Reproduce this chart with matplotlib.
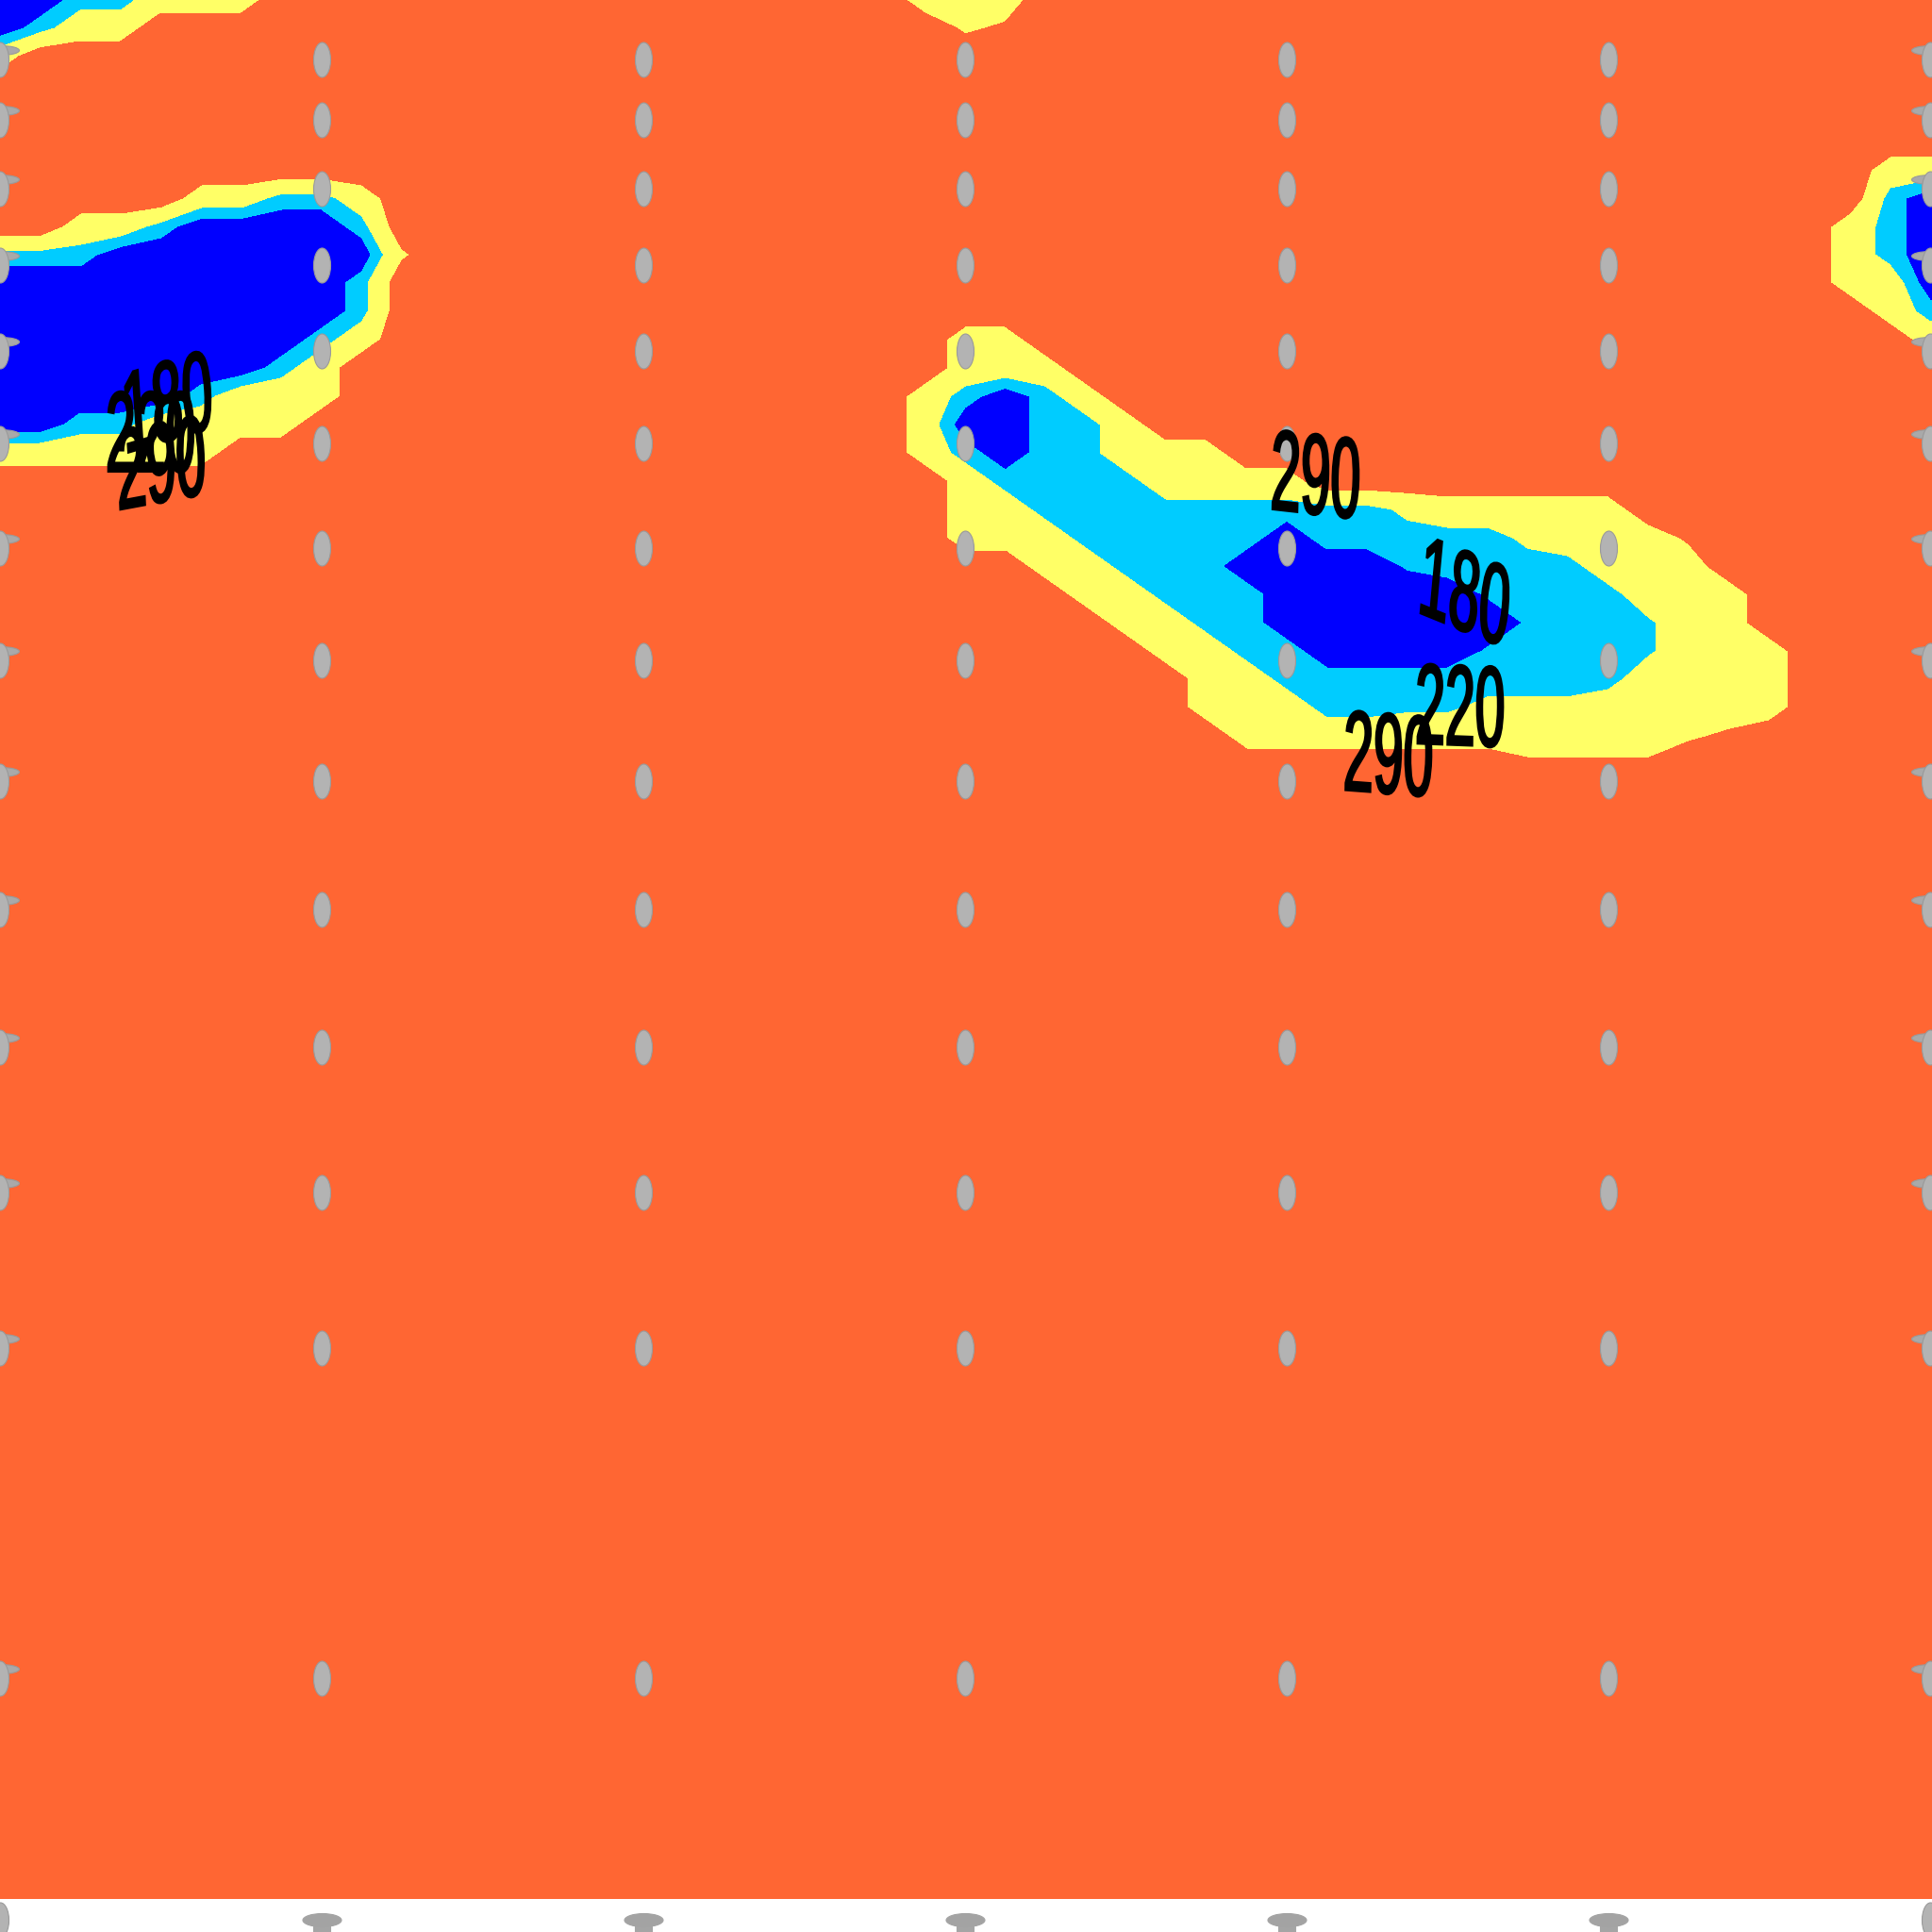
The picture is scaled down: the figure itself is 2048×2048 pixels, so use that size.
import numpy as np
import matplotlib
matplotlib.use("Agg")
import matplotlib.pyplot as plt
from matplotlib.path import Path
from matplotlib.patches import PathPatch
from matplotlib.textpath import TextPath
from matplotlib.font_manager import FontProperties
from matplotlib.transforms import Affine2D, ScaledTranslation

# filled contour levels and their colours
levels = [100, 180, 220, 290, 400]
fill_colors = ["#0000ff", "#00ccff", "#ffff66", "#ff6633"]

# field grid: x in column units (0..6 across the plot), y in level units (0 at top)
grid_x = np.linspace(0, 6.125, 50)
grid_y = list(range(0, 841, 30)) + [900, 1100, 1500, 2050]

# coded field values
band_value = {"B": 150, "b": 172, "c": 185, "C": 200, "k": 212,
              "y": 232, "Y": 255, "u": 280, "o": 300, "O": 330}
field_rows = [
    "BBCCYYYOOO OOOOOOOOOO OOOYYYOOOO OOOOOOOOOO OOOOOOOOOO",  # 0
    "BCYYOOOOOO OOOOOOOOOO OOOOuoOOOO OOOOOOOOOO OOOOOOOOOO",  # 30
    "YOOOOOOOOO OOOOOOOOOO OOOOOOOOOO OOOOOOOOOO OOOOOOOOOO",  # 60
    "OOOOOOOOOO OOOOOOOOOO OOOOOOOOOO OOOOOOOOOO OOOOOOOOOO",  # 90
    "OOOOOOOOOO OOOOOOOOOO OOOOOOOOOO OOOOOOOOOO OOOOOOOOOO",  # 120
    "OOOOOOOOOO OOOOOOOOOO OOOOOOOOOO OOOOOOOOOO OOOOOOOOOO",  # 150
    "OOOOOOOOOO OOOOOOOOOO OOOOOOOOOO OOOOOOOOOO OOOOOOOYYY",  # 180
    "OOOOOYYCCY OOOOOOOOOO OOOOOOOOOO OOOOOOOOOO OOOOOOOCBB",  # 210
    "OOYYCBBBBC OOOOOOOOOO OOOOOOOOOO OOOOOOOOOO OOOOOOYCBB",  # 240
    "CCCBBBBBBB uOOOOOOOOO OOOOOOOOOO OOOOOOOOOO OOOOOOYCBB",  # 270
    "BBBBBBBBBC OOOOOOOOOO OOOOOOOOOO OOOOOOOOOO OOOOOOYYBB",  # 300
    "BBBBBBBBBC OOOOOOOOOO OOOOOOOOOO OOOOOOOOOO OOOOOOOYCC",  # 330
    "BBBBBBBBCY OOOOOOOOOO OOOOYYOOOO OOOOOOOOOO OOOOOOOOYY",  # 360
    "BBBBBBBCYO OOOOOOOOOO OOOOYYYOOO OOOOOOOOOO OOOOOOOOOO",  # 390
    "BBBBBCYYYO OOOOOOOOOO OOOYCBCYOO OOOOOOOOOO OOOOOOOOOO",  # 420
    "BBCCYYYYOO OOOOOOOOOO OOOYBBCCYO OOOOOOOOOO OOOOOOOOOO",  # 450
    "YYYYYYOOOO OOOOOOOOOO OOOYCBCCYY YOOOOOOOOO OOOOOOOOOO",  # 480
    "OOOOOOOOOO OOOOOOOOOO OOOOYCCCCY YYYOOOOOOO OOOOOOOOOO",  # 510
    "OOOOOOOOOO OOOOOOOOOO OOOOYYCCCC CCCCCyYYYY YOOOOOOOOO",  # 540
    "OOOOOOOOOO OOOOOOOOOO OOOOYYYCCC CCBCCCCCyY YYoOOOOOOO",  # 570
    "OOOOOOOOOO OOOOOOOOOO OOOOOOYYCC CBBBBcCCCC YYYOOOOOOO",  # 600
    "OOOOOOOOOO OOOOOOOOOO OOOOOOOYYC CCBBBBBcCC CYYYOOOOOO",  # 630
    "OOOOOOOOOO OOOOOOOOOO OOOOOOOOYY CCBBBBBBcC CkYYOOOOOO",  # 660
    "OOOOOOOOOO OOOOOOOOOO OOOOOOOOOY YCCBBBBcCC CkYYYOOOOO",  # 690
    "OOOOOOOOOO OOOOOOOOOO OOOOOOOOOO YYCCCCCCCC CYYYYOOOOO",  # 720
    "OOOOOOOOOO OOOOOOOOOO OOOOOOOOOO YYYCCkkyyy YYYYYOOOOO",  # 750
    "OOOOOOOOOO OOOOOOOOOO OOOOOOOOOO OYYYYYYYYY YYuoOOOOOO",  # 780
    "OOOOOOOOOO OOOOOOOOOO OOOOOOOOOO OOOOOOOOoo ooOOOOOOOO",  # 810
    "OOOOOOOOOO OOOOOOOOOO OOOOOOOOOO OOOOOOOOOO OOOOOOOOOO",  # 840
    "OOOOOOOOOO OOOOOOOOOO OOOOOOOOOO OOOOOOOOOO OOOOOOOOOO",  # 900
    "OOOOOOOOOO OOOOOOOOOO OOOOOOOOOO OOOOOOOOOO OOOOOOOOOO",  # 1100
    "OOOOOOOOOO OOOOOOOOOO OOOOOOOOOO OOOOOOOOOO OOOOOOOOOO",  # 1500
    "OOOOOOOOOO OOOOOOOOOO OOOOOOOOOO OOOOOOOOOO OOOOOOOOOO",  # 2050
]

# vector glyph stations
station_cols = [0, 1, 2, 3, 4, 5, 6]
station_rows = [63, 127, 200, 281, 372, 470, 581, 700, 828, 964, 1110, 1264, 1429, 1779]
below_row = 2035

# contour labels
label_levels = [180, 220, 290, 290, 180, 220, 290]
label_x = [0.522, 0.469, 0.501, 4.091, 4.557, 4.540, 4.317]
label_y = [425, 458, 490, 503, 627, 748, 799]
label_angle = [8, 0, 5, -3, -11, -1, -2]

DPI = 100
fig = plt.figure(figsize=(20.48, 20.48), dpi=DPI)
ax = fig.add_axes([0, 35 / 2048, 1, 2013 / 2048])

Z = np.array([[band_value[ch] for ch in "".join(row.split())] for row in field_rows], dtype=float)
ax.contourf(grid_x, grid_y, Z, levels=levels, colors=fill_colors)
ax.set_xlim(0, 2048 / 341)
ax.set_ylim(2013, 0)
ax.set_axis_off()


def px_size(path):
    # marker size in points for a path drawn in pixel units
    return 2 * np.abs(path.vertices).max() * 72 / DPI


ellipse = Path.unit_circle().transformed(Affine2D().scale(9, 18.5))
flat = Path.unit_circle().transformed(Affine2D().scale(20, 5))
dome = Path.unit_circle().transformed(Affine2D().scale(20.5, 7))
stem = Path([(-9, -2), (9, -2), (9, -20), (-9, -20), (-9, -2)],
            [Path.MOVETO, Path.LINETO, Path.LINETO, Path.LINETO, Path.CLOSEPOLY])

glyph = dict(ls="none", mfc="#b3b3b3", mec="#9a9a9a", mew=0.8, clip_on=False)

# side-on heads of the edge arrows
lift = ax.transData + ScaledTranslation(0, 10 / DPI, fig.dpi_scale_trans)
for cx in (station_cols[0], station_cols[-1]):
    ax.plot([cx] * len(station_rows), station_rows, marker=flat, ms=px_size(flat),
            transform=lift, **{**glyph, "mfc": "#a9a9a9"})

gx, gy = np.meshgrid(station_cols, station_rows)
ax.plot(gx.ravel(), gy.ravel(), marker=ellipse, ms=px_size(ellipse), **glyph)

# bottom row just below the plot
inner = station_cols[1:-1]
ax.plot(inner, [below_row] * len(inner), marker=stem, ms=px_size(stem),
        **{**glyph, "mfc": "#a5a5a5", "mec": "#a5a5a5"})
ax.plot(inner, [below_row] * len(inner), marker=dome, ms=px_size(dome),
        **{**glyph, "mfc": "#a3a3a3", "mec": "#a3a3a3"})
ax.plot([station_cols[0], station_cols[-1]], [below_row] * 2, marker=ellipse,
        ms=px_size(ellipse), **glyph)

# stretched contour labels
fp = FontProperties(family="Liberation Sans")
LABEL_W, LABEL_H = 90, 86
for lev, lx, ly, ang in zip(label_levels, label_x, label_y, label_angle):
    tp = TextPath((0, 0), str(lev), size=50, prop=fp)
    ext = tp.get_extents()
    s = LABEL_W / ext.width
    st = LABEL_H / (ext.height * s)
    px, py = ax.transData.transform((lx, ly))
    tr = (Affine2D().translate(-(ext.x0 + ext.x1) / 2, -(ext.y0 + ext.y1) / 2)
          .scale(s).rotate_deg(ang).scale(1, st).translate(px, py))
    fig.add_artist(PathPatch(tp, transform=tr, facecolor="black", edgecolor="black", lw=1.8))

fig.savefig("out.png", dpi=DPI, facecolor="white")
